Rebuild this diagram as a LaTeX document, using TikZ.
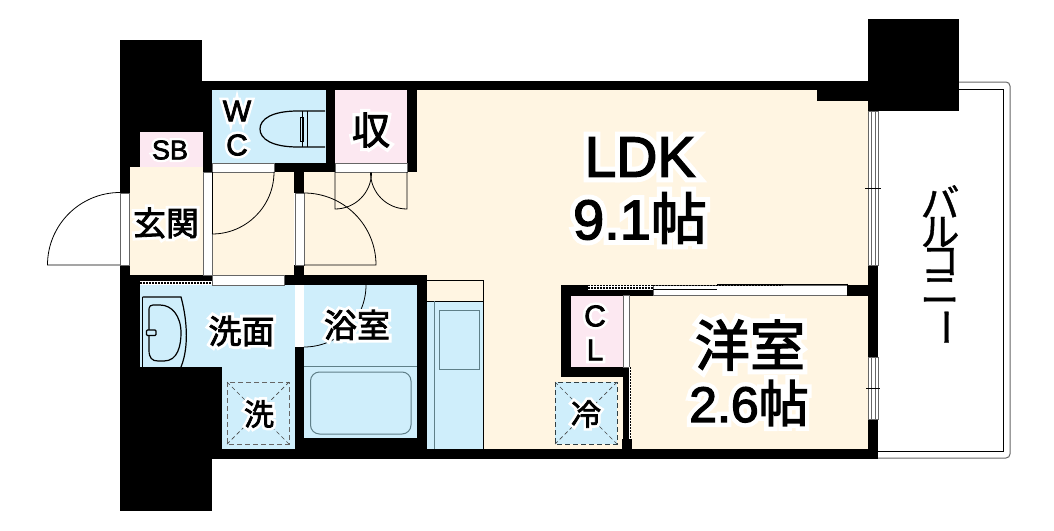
\documentclass[tikz,border=0pt]{standalone}
\usepackage{fontspec}
\usepackage{graphicx}
\setmainfont{Noto Sans CJK JP}
\newfontfamily\latinf{Liberation Sans}
\definecolor{beigef}{HTML}{FFF5E2}
\definecolor{bluef}{HTML}{CFEEFB}
\definecolor{pinkf}{HTML}{FCE8F1}
\definecolor{frameg}{HTML}{666666}
\definecolor{tealg}{HTML}{5F7F88}
\newcommand\hfeat{\addfontfeature{FakeBold=2.5}}
\newcommand\lat[1]{{\latinf\hfeat #1}}
\newcommand\halo[1]{\leavevmode\rlap{\color{white}\renewcommand\hfeat{\addfontfeature{FakeBold=20}}\hfeat #1}\hfeat #1}
\tikzset{
  wall/.style={fill=black,draw=none},
  beigefloor/.style={fill=beigef,draw=none},
  bluefloor/.style={fill=bluef,draw=none},
  pinkfloor/.style={fill=pinkf,draw=none},
  frame/.style={fill=white,draw=frameg,line width=0.8pt},
  thin line/.style={draw=black,line width=0.8pt},
  fixture/.style={draw=black,line width=1.2pt},
  pan/.style={draw=frameg,line width=1pt,dash pattern=on 5pt off 3pt},
  pandiag/.style={draw=frameg!70!black,line width=0.7pt,dash pattern=on 4pt off 3pt},
  label/.style={inner sep=0pt,outer sep=0pt,anchor=center,text=black},
  rail/.style={draw=black,line width=1.6pt,dash pattern=on 2pt off 1pt},
}
\begin{document}
\begin{tikzpicture}[x=1pt,y=-1pt]
\useasboundingbox (0,0) rectangle (1054,530);
% floors
\fill[beigefloor] (304,90) -- (868,90) -- (868,449) -- (483,449) -- (483,275) -- (304,275) -- cycle;
\fill[beigefloor] (130,167) rectangle (294,275);
\fill[bluefloor] (212,90) rectangle (326,163);
\fill[pinkfloor] (335,90) rectangle (407,163);
\fill[pinkfloor] (140,132) rectangle (203,167);
\fill[bluefloor] (140,285) rectangle (295,367);
\fill[bluefloor] (222,367) rectangle (295,449);
\fill[bluefloor] (304,285) rectangle (417,438);
\fill[beigefloor] (427,275) rectangle (483,301);
\fill[bluefloor] (427,301) rectangle (483,449);
\fill[pinkfloor] (571,295) rectangle (623,367);
% balcony
\draw[draw=frameg,line width=1pt,rounded corners=4pt] (959,82) -- (1010,82) -- (1010,458) -- (878,458);
\draw[thin line] (959,89.5) -- (1003,89.5) -- (1003,451) -- (878,451);
% walls
\fill[wall] (120,40) rectangle (202,81);
\fill[wall] (120,81) rectangle (212,132);
\fill[wall] (120,132) rectangle (140,167);
\fill[wall] (203,132) rectangle (212,172);
\fill[wall] (120,167) rectangle (130,193);
\fill[wall] (120,265) rectangle (130,275);
\fill[wall] (120,275) rectangle (140,367);
\fill[wall] (120,367) rectangle (212,511);
\fill[wall] (120,275) rectangle (212,281);
\fill[wall] (212,367) rectangle (222,459);
\fill[wall] (202,81) rectangle (868,90);
\fill[wall] (817,90) rectangle (868,100.5);
\fill[wall] (868,19) rectangle (959,111);
\fill[wall] (326,90) rectangle (335,172);
\fill[wall] (407,90) rectangle (416.5,172);
\fill[wall] (274,163) rectangle (335,172);
\fill[wall] (294,172) rectangle (304,193);
\fill[wall] (294,265) rectangle (304,285);
\fill[wall] (284,275) rectangle (427,285);
\fill[wall] (295,347) rectangle (304,459);
\fill[wall] (417,285) rectangle (427,459);
\fill[wall] (304,438) rectangle (417,449);
\fill[wall] (212,449) rectangle (878,459);
\fill[wall] (868,265) rectangle (878,357);
\fill[wall] (868,419) rectangle (878,459);
\fill[wall] (561,285) rectangle (588,295.5);
\fill[wall] (588,289.5) rectangle (653,295.5);
\fill[wall] (847,285) rectangle (868,295.5);
\fill[wall] (561,295) rectangle (571,377);
\fill[wall] (561,367) rectangle (629,377);
\fill[wall] (623,377) rectangle (629.5,449);
\fill[wall] (622,439) rectangle (632,459);
% openings
\path[frame] (120.5,193) rectangle (129,265);
\path[frame] (203,172) rectangle (212,275);
\path[frame] (212,163) rectangle (274,172);
\path[frame] (335,163.5) rectangle (407,172);
\path[frame] (295,193) rectangle (304,265);
\fill[white] (295,285) rectangle (304,347);
\path[frame] (212,275.5) rectangle (284,285);
\fill[white] (140,281) rectangle (212,285);
\draw[rail,line width=1.4pt] (140,283) -- (212,283);
\path[frame] (653,285) rectangle (847,295);
\draw[thin line] (847,283.5) -- (847,296);
\draw[thin line] (717,284.5) -- (847,284.5);
\fill[white] (588,284.5) rectangle (653,289.5);
\draw[rail] (588,285.5) -- (653,285.5);
\draw[rail] (588,288) -- (653,288);
\draw[rail,line width=1.2pt] (653,285.5) -- (783,285.5);
\draw[thin line] (653,289) -- (717,289);
\path[frame] (623,295.5) rectangle (629.5,367);
\fill[white] (629,367) rectangle (631,439);
\draw[draw=black,line width=0.8pt,dash pattern=on 1.5pt off 1.5pt] (630.5,367) -- (630.5,439);
% windows
\path[frame] (868,111) rectangle (878,265);
\draw[draw=frameg,line width=0.8pt] (871,111) -- (871,265) (875,111) -- (875,265);
\draw[thin line] (865,188) -- (881,188);
\path[frame] (868,357) rectangle (878,419);
\draw[draw=frameg,line width=0.8pt] (871,357) -- (871,419) (875,357) -- (875,419);
\draw[thin line] (866,388) -- (880,388);
% doors
\draw[thin line] (120,265) -- (47.5,265) arc[start angle=180,end angle=270,radius=72.5];
\draw[thin line] (274,172) arc[start angle=0,end angle=90,radius=62];
\draw[thin line] (212,172) -- (212,234);
\draw[thin line] (304,193) arc[start angle=270,end angle=360,radius=72] -- (304,265);
\draw[thin line] (335,172) -- (335,209) arc[start angle=90,end angle=0,radius=36.5];
\draw[thin line] (407,172) -- (407,209) arc[start angle=90,end angle=180,radius=36.5];
\draw[thin line] (366,285) arc[start angle=0,end angle=90,radius=62];
% toilet
\draw[fixture] (325,111) -- (298,111) .. controls (272,111) and (260,119) .. (260,129) .. controls (260,139) and (272,147) .. (298,147) -- (325,147);
\draw[thin line] (307,111) -- (307,147);
\draw[thin line] (302,111) -- (302,147);
\draw[thin line] (300,117) rectangle (303,141);
% basin
\draw[fixture] (142.5,297) -- (142.5,367);
\draw[fixture] (142.5,297) -- (181,297) .. controls (186,315) and (190,345) .. (181,367);
\draw[fixture] (153,305) .. controls (148,305) and (149,310) .. (149,315) -- (149,350) .. controls (149,358) and (152,361) .. (158,361) -- (164,361) .. controls (178,361) and (181,345) .. (181,333) .. controls (181,316) and (172,305) .. (160,305) -- cycle;
\draw[fixture,fill=bluef,rounded corners=1pt] (146.5,330) rectangle (156,335.5);
% bath
\draw[draw=tealg,line width=1pt] (304,366.5) -- (417,366.5);
\draw[draw=tealg,line width=1pt,rounded corners=9pt] (310.5,372) rectangle (411,434);
% kitchen strip
\draw[thin line] (427,280) -- (483,280) -- (483,449);
\draw[thin line] (427,301) -- (483,301);
\draw[draw=tealg,line width=1pt] (434,301) -- (434,449);
\draw[draw=tealg,line width=1pt] (439,310) rectangle (479.5,369);
% washer and fridge pans
\draw[pan] (227,382) rectangle (289,444);
\draw[pandiag] (227,382) -- (289,444) (289,382) -- (227,444);
\fill[bluef] (555,382) rectangle (617,444);
\draw[pan,draw=tealg!50!black] (555,382) rectangle (617,444);
\draw[pandiag] (555,382) -- (617,444) (617,382) -- (555,444);
% labels
\node[label,font=\latinf\fontsize{57}{57}\selectfont] (ldk) at (640,157) {\halo{LDK}};
\node[label,font=\fontsize{56}{56}\selectfont] (ldkarea) at (640,218) {\halo{\lat{9.1}帖}};
\node[label,font=\fontsize{55}{55}\selectfont] (yoshitsu) at (750,345) {\halo{洋室}};
\node[label,font=\fontsize{50}{50}\selectfont] (yoarea) at (749,403) {\halo{\lat{2.6}帖}};
\node[label,font=\latinf\fontsize{27}{27}\selectfont] (sb) at (170,150) {\halo{SB}};
\node[label,font=\latinf\fontsize{30}{30}\selectfont] (w) at (237,111) {\halo{W}};
\node[label,font=\latinf\fontsize{30}{30}\selectfont] (c) at (237,145) {\halo{C}};
\node[label,font=\fontsize{38}{38}\selectfont] (shu) at (371,130) {\halo{収}};
\node[label,font=\fontsize{33}{33}\selectfont] (genkan) at (166,223) {\halo{玄関}};
\node[label,font=\fontsize{33}{33}\selectfont] (senmen) at (241.5,331) {\halo{洗面}};
\node[label,font=\fontsize{33}{33}\selectfont] (yokushitsu) at (357,325) {\halo{浴室}};
\node[label,font=\fontsize{30}{30}\selectfont] (sentaku) at (259,414) {\halo{洗}};
\node[label,font=\fontsize{30}{30}\selectfont] (rei) at (586,414) {\halo{冷}};
\node[label,font=\latinf\fontsize{30}{30}\selectfont] (cl1) at (595,316) {\halo{C}};
\node[label,font=\latinf\fontsize{30}{30}\selectfont] (cl2) at (595,350) {\halo{L}};
% balcony label
\node[label,font=\fontsize{39}{33}\selectfont\addfontfeature{FakeBold=1},align=center] (balcony) at (940,266) {バ\\[-4pt]ル\\[-4.5pt]コ\\[-4pt]ニ\\[-1pt]\rotatebox[origin=c]{-90}{ー}};
\end{tikzpicture}
\end{document}
